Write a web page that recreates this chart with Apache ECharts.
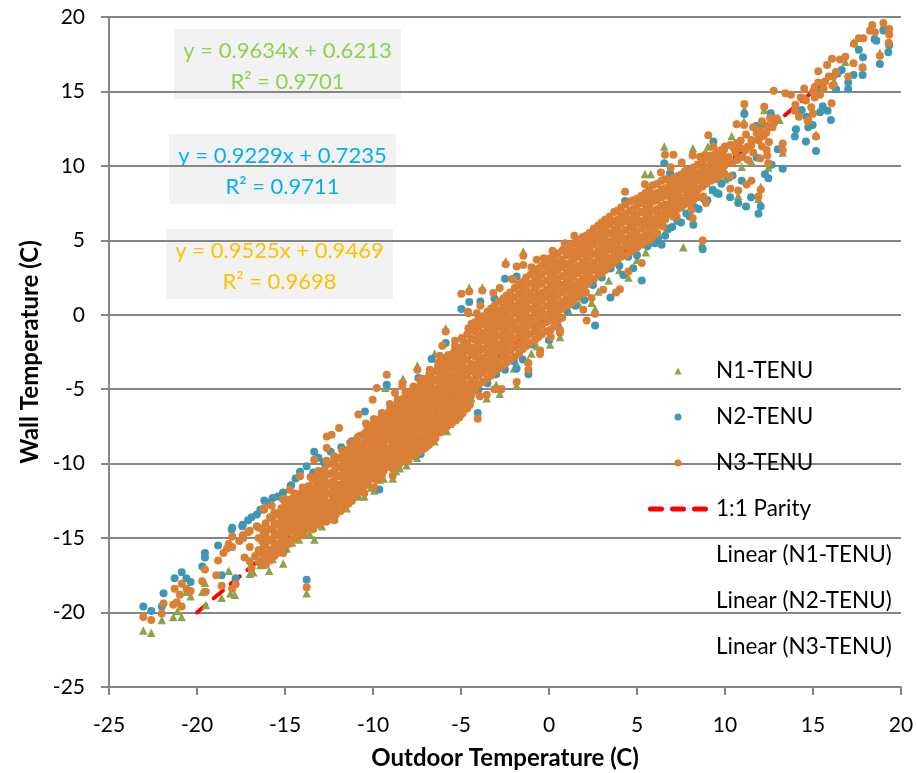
<!DOCTYPE html>
<html>
<head>
<meta charset="utf-8">
<title>Wall vs Outdoor Temperature</title>
<script src="https://cdn.jsdelivr.net/npm/echarts@6/dist/echarts.min.js"></script>
<style>
  html, body { margin: 0; padding: 0; background: #fff; }
  #chart { width: 917px; height: 773px; }
</style>
</head>
<body>
<div id="chart"></div>
<script>
// values, [outdoor, wall]
const parity = [[-20, -20], [16, 16]];
const linearN1 = [[-23, -21.54], [19.3, 19.21]];
const linearN2 = [[-23, -20.5], [19.3, 18.54]];
const linearN3 = [[-23, -20.96], [19.3, 19.33]];

const n1Tenu = [
  [-23.05,-21.2],[-22.6,-21.35],[-22,-20.5],[-21.35,-20.3],[-20.87,-20.3],[-21.1,-19.9],[-20.36,-18.9],[-20.6,-18.6],
  [-19.5,-19.5],[-19.7,-18.6],[-19.55,-18],[-18.6,-19],[-18.1,-18.7],[-17.85,-18.8],[-13.77,-18.7],[-18.2,-17.2],
  [-17,-17.4],[-16.8,-17.3],[-15.9,-17.2],[-15.1,-16.7],[-14.6,-15.3],[-13.33,-15.1],[-13.92,-14.7],[-11.8,-12.46],
  [-11.18,-11.6],[-16.4,-16.8],[-15.7,-16.4],[-14.9,-15.7],[-14.2,-15.1],[-13.67,-14.2],[-13.11,-13.98],[-12.44,-12.64],
  [-11.78,-12.53],[-11.18,-11.64],[-10.49,-12.2],[-9.93,-11.8],[-8.88,-11],[-8.47,-10.3],[-7.9,-8.95],[-6.86,-8.66],
  [-6.2,-7.83],[-5.53,-7.16],[-9.6,-11.07],[-10.27,-11.4],[-11.5,-11],[-9.3,-4.9],[-12.8,-13.6],[-7.4,-9.3],
  [-5.6,-7.3],[-4.96,-6.26],[-4.4,-5.6],[-3.54,-5.6],[-2.8,-5.3],[-1.84,-4.75],[-1.93,-3.07],[-1.2,-3.1],
  [-0.7,-2.1],[0.06,-2],[0.62,-1.5],[1.1,0.3],[1.7,0.7],[2.42,0.8],[2.62,0.4],[2.8,1.56],[3.4,2.3],[4,3],
  [4.51,2.5],[5,3.7],[5.5,4.2],[6.1,4.9],[6.7,5.8],[7.3,6.5],[8,7.1],[8.7,4.8],[7.63,4.54],
  [-14.4,-15],[-13.6,-14.7],[-12.9,-14.2],[-12.2,-13.7],[-11.5,-13],[-10.8,-12.2],[-10.1,-11.6],[-9.4,-11],[-8.7,-10.5],
  [-8.1,-10.1],[-7.5,-9.6],[-6.5,-8.5],[-5.8,-7.8],[-3,-4.7],[-2,-3.6],[-1,-2.6],[0,-1.6],
  [-1.46,4.25],[-2.46,3.6],[-4.53,1.84],[-3.79,1.84],[-5.87,-0.9],[-6.5,-2.6],[-7.48,-3.4],[-8.3,-4.3],
  [5.45,9.46],[5.78,9.46],[6.55,11.3],[8.18,11.19],[9.03,11.3],[10.38,12],[11.1,13.8],[11.08,13],[12.23,13.75],
  [15.17,12.1],[18.8,17.6],[17.82,16.7],[16.84,17],[19,19.45],[12.03,8.6],[11.9,7.8],[10.75,8],[13.28,10.9],
  [12.46,9.9],[10.95,9.95],[9.3,8.4],[10,9.1],[11.5,10.3],[13.1,13.1],[14.2,13.7],[15.5,15.2],[16.2,15.7],[17.3,18.3]
];

const n2Tenu = [
  [-23.05,-19.6],[-22.6,-19.9],[-22,-19.6],[-21.27,-17.7],[-20.87,-17.3],[-20.6,-17.7],[-20.36,-17.95],[-21.9,-18.7],
  [-19.55,-16],[-19.55,-16.3],[-19.7,-16.9],[-18.8,-15.5],[-18.6,-17.5],[-17.8,-17.7],[-18,-14.3],[-13.77,-17.8],
  [-17.4,-14.1],[-17.43,-14.2],[-18.03,-14.43],[-16.6,-13.42],[-16.18,-12.48],[-15.7,-12.3],[-15.13,-12],[-14.68,-11.5],
  [-15.06,-15.8],[-15.1,-11.93],[-14.65,-11.45],[-14.15,-10.55],[-13.77,-10.18],[-13.34,-9.2],[-12.63,-13.7],
  [-17.1,-13.8],[-16.9,-13.6],[-16.4,-13.1],[-15.9,-12.6],[-15.4,-12.2],[-14.4,-11],[-13.1,-9.6],[-12.4,-9.2],[-11.8,-8.9],[-11.2,-8.5],
  [-13.4,-10.6],[-12.8,-9.9],[-12.2,-9.6],[-11.5,-9.1],[-10.9,-8.3],[-10.46,-6.49],[-10.3,-7.6],[-9.6,-7],[-9.22,-4.7],
  [-9,-6.3],[-8.4,-5.9],[-7.74,-5.26],[-7.42,-4.25],[-7,-4.5],[-6.67,-2.97],[-6.3,-3.5],[-5.87,-1.9],[-5.7,-3.1],[-5,-2.2],
  [-4.98,0.38],[-4.53,0.85],[-2.5,2.42],[-1.84,2.57],[-0.3,3.36],[1.29,4.03],[2.5,5.59],[-3.9,0.9],[-3.1,1.1],
  [-11.59,-11.57],[-9.64,-11.74],[-7.29,-9.35],[-8,-9.8],[-7,-8.9],[-6,-7.7],[-5,-6.7],[-4.05,-6.6],[-4,-5],[-3,-4],
  [-3.5,-4.6],[-2.5,-3.7],[-1.5,-3],[0.5,-0.8],[1.5,0.6],[2.5,2],[3.5,3.1],[4.5,3.9],
  [6,4.8],[6.6,5.3],[7,5.9],[7.5,6.2],[8,6.6],[8.5,7.1],[9,7.7],[9.5,8.2],
  [-2,-3.1],[-1.84,-3.6],[-1.17,-4],[-1,-2],[0,-1.7],[1,0.3],[2,1],[2.62,-0.72],[3,2.5],[3.49,1.16],[4,3.3],[4.22,2.68],
  [4.79,3.13],[5.27,2.3],[5,4],[5.6,4.6],[6.2,5.1],[6.4,4.7],[6.8,5.8],[7.3,6.3],[7.8,6.8],[8.2,6.04],[8.3,7.2],[8.73,4.4],
  [8.8,7.8],[9.3,8.4],[9.64,8.12],[9.8,8.8],[10.2,9.2],[10.43,9.35],[10.95,9],[10.29,7.9],[10.75,7.5],[11.2,7.27],
  [11.48,7.9],[11.9,6.78],[12.03,7.27],[12.27,9.44],[12.46,9.17],[12.65,10.07],[13.28,9.8],[13,11.12],[11.8,10.56],
  [4.32,7.65],[5.45,8.1],[6.55,10.18],[6.88,9.5],[9.34,11.63],[11.1,13.49],[12.6,13.54],[12.08,12.8],[11.76,12.68],
  [14.36,13.76],[14.64,13.3],[14.03,12.46],[13.97,11.97],[14.6,11.63],[15.17,11],[14.73,12.6],[14.98,12.75],[15.4,13.6],
  [15.55,14],[15.83,13.7],[16.02,13.09],[16.31,15.15],[16.63,16.44],[17,15.15],[17,15.6],[17.3,16.1],[17.82,16.1],
  [17.84,17.3],[17.6,17.8],[18.8,16.85],[19,19.1],[18.5,18.5],[18.6,18.4],[19.33,18.1],[19.28,17.63],[16.4,16.2],[15.3,15]
];

// scattered N3 points: tails and outliers
const n3Tails = [
  [-23.05,-20.3],[-22.6,-20.5],[-22,-20.07],[-21.9,-19.4],[-21.35,-19.47],[-20.87,-19.6],[-21.15,-19.3],[-20.97,-18.8],
  [-21.27,-18.4],[-20.87,-18.07],[-20.6,-18.4],[-20.36,-18.55],[-19.5,-18.6],[-19.7,-17.9],[-19.55,-17.1],[-18.9,-17.5],
  [-18.8,-16.5],[-18.6,-18.2],[-18,-18.4],[-17.8,-18.1],[-18.5,-16],[-18.3,-15.7],[-18,-14.9],[-18,-15.6],[-13.77,-18.3],
  [-18.2,-15.4],[-17.37,-15],[-17,-14.5],[-16.6,-14.2],[-16.2,-13.1],[-17,-16.56],[-15.85,-16.3],[-16.32,-16],[-15.1,-16],
  [-17.6,-15.2],[-17.4,-14.8],[-17.3,-16.3],[-17,-15.6],[-16.9,-17],[-16.7,-16.2],[-17.1,-14.6],[-16.18,-12.98],
  [-15.76,-12.82],[-15.13,-12.37],[-14.72,-11.75],[-14.15,-10.85],[-13.34,-9.73],[-12.63,-8.17],[-12.63,-8.95],[-12.35,-8.05],
  [-11.93,-7.6],[-10.83,-6.7],[-10.02,-5.7],[-9.79,-4.92],[-9.22,-4.03],[-8.33,-4.58],[-7.48,-3.69],[-6.2,-2.75],[-6.06,-2.08],
  [-5.87,-1.12],[-5.34,-1.74],[-4.98,1.41],[-4.53,1.56],[-3.79,1.63],[-3.16,1.46],[-2.46,3.4],[-1.46,3.96],[1.44,5.3],
  [-4.6,0.2],[-3.9,0.6],[-2.8,1.8],[-2.1,2.4],[-1,3.2],[0.2,4.3],[0.9,4.8],
  [-1.84,3.24],[-1.46,3.35],[-0.7,3.69],[-0.3,3.8],[0.06,3.8],[0.34,4.15],[0.8,4.36],[1.48,4.8],[-2.03,2.35],[-1.6,2.1],
  [-3.16,0.33],[-4.58,0.11],[-4.1,0.11],[-4.58,-0.9],[-4.96,-1.56],[-5.34,-2.1],[-5.72,-2.7],[-6.77,-3.7],[-7.33,-4.36],
  [-8.33,-4.81],[-8.75,-5.26],[-7.7,-4.81],[-2.78,-5.03],[-0.5,-2.4],[0.62,-1.2],[1.95,0.33],[3.08,1.68],[-3.92,-5.48],
  [-4.49,-6.04],[-5.63,-7.05],[-3.1,-5],[-3.54,-5.37],[-4.9,-6.2],
  [-12.63,-13.36],[-13.24,-12.3],[-11.73,-12.08],[-10.49,-11.97],[-9.93,-11.59],[-8.88,-10.81],[-9.5,-10.5],[-7.29,-8.9],[-9.22,-9.84],
  [-4.05,-6.98],[-2.69,-4.99],[-1.84,-4.52],[-1.17,-3.24],[-1.17,-3.69],[-0.51,-2.64],[0.62,-1],[2.14,-0.38],[2.62,0.07],
  [2.42,1.12],[3.81,1.5],[4.03,1.72],[4.51,2.9],[5.27,3.47],
  [8.1,7.05],[8.77,7.94],[7.25,6.6],[6.49,5.93],[5.74,5],[7.82,9.73],[8.87,10.74],[9.81,11.07],[9.34,10.4],
  [4.32,8.27],[5.45,8.77],[6.36,9.55],[6.92,9.91],[6.59,10.74],[7.07,10.74],[7.54,10.22],[8.16,10.69],[8.58,10.62],[9.34,11.3],[10,11.3],[9.05,12.05],
  [8.92,7.5],[8.16,6.49],[8.73,4.99],[10.29,9.28],[10.3,8.46],[10.75,8.34],[11.23,8.75],[11.5,9],[12.03,8.39],[11.9,7.94],
  [10.3,11.4],[10.6,10.9],[11,10.6],[11.3,11.3],[11.6,10.9],[11.9,11.7],[12.1,11.3],[11.8,12.2],[12.2,12],[12.4,12.7],[12.7,12.6],[12.5,11.6],
  [10.2,10.6],[10.7,10.4],[11.15,11.05],[11.5,11.4],[12,11.95],[12.35,12.25],[12.8,12.9],[10.5,11.2],[10.9,11.7],[11.2,12.1],[11.6,12.6],[12.1,13],
  [10,10.2],[10.4,10.2],[10.9,11.2],[11.3,10.4],[12,10.5],[12.4,10.7],[10.66,12.8],[11.08,12.75],[10.66,11.52],[11.99,12.4],[12.56,13.2],[11.5,11.74],
  [12.37,11.07],[12.46,10.18],[13.28,11.5],[13.28,11.05],[11.1,14.16],[12.23,13.98],[12.77,15.05],[12.93,13.2],[13.43,14.88],[13.75,14.77],[13.97,13.7],
  [14,14.1],[14.3,14.6],[14.45,14.54],[14.5,15.2],[14.6,14.4],[15,15],[15.1,15.3],[15.3,16.36],[15.3,15.6],[15.4,14.77],[15.6,15.2],[15.68,15.66],[15.8,16.78],
  [15.9,16],[16.06,14.2],[16.08,17.2],[16.1,15.4],[16.15,16],[16.3,16.3],[16.53,17.15],[16.84,17.33],[15.1,14.6],[14.2,13.3],[14.7,13],[14.73,13.09],[14.9,13.94],[15,13.5],
  [15.17,11.97],[17,16],[17.3,16.9],[17.33,18.2],[17.6,18.57],[17.82,16.6],[17.86,18.57],[18.24,19.08],[18.37,19.46],[18.52,18.97],[18.8,17.4],[19,19.6],[19.33,19.2],[19.33,18.8],[19.3,18.27]
];

// dense N3 band, one row per outdoor reading: [x, y, y, ...]
const n3Band = [
  [-16.5,-14.3,-15,-15.8,-16.6],[-16.3,-14.4,-15.2,-15.9,-16.5],[-16.2,-14.7,-15.5,-16.3],[-16.1,-14,-14.7,-15.4,-16.1,-16.8],[-15.85,-13.6,-14.4,-15.1,-15.8,-16.5],
  [-15.7,-13.7,-14.4,-15.2,-15.9],[-15.6,-13.3,-14,-14.8,-15.5,-16.2],[-15.4,-13.4,-14.1,-14.7,-15.4,-16],[-15.3,-13.3,-14,-14.7,-15.5],[-15.2,-13,-13.7,-14.4,-15.1,-15.8],[-15,-12.8,-13.4,-14.1,-14.8,-15.5],
  [-14.9,-12.4,-13,-13.7,-14.4,-15.2],[-14.8,-12.6,-13.3,-14,-14.6,-15.4],[-14.55,-12.3,-13,-13.7,-14.3,-15.1],[-14.45,-12,-12.6,-13.3,-14,-14.6],[-14.3,-12.2,-12.9,-13.6,-14.2,-14.9],[-14.1,-12,-12.6,-13.2,-13.9,-14.6],
  [-14,-11.6,-12.3,-12.9,-13.5,-14.2,-14.8],[-13.9,-11.9,-12.5,-13.1,-13.8,-14.5],[-13.65,-11.5,-12.2,-12.8,-13.4,-14.1],[-13.55,-10.9,-11.7,-12.4,-13,-13.6,-14.3],[-13.4,-11.1,-11.9,-12.5,-13.1,-13.8,-14.4],[-13.2,-10.8,-11.4,-12.1,-12.8,-13.5,-14.1],
  [-13.1,-10.5,-11.2,-11.8,-12.4,-13,-13.7],[-13,-10.9,-11.5,-12,-12.7,-13.3,-14],[-12.75,-10.4,-11,-11.7,-12.3,-13,-13.7],[-12.65,-9.8,-10.7,-11.3,-12,-12.6,-13.2,-13.9],[-12.5,-10,-10.7,-11.4,-12,-12.7,-13.5],[-12.3,-10,-10.6,-11.2,-11.8,-12.5,-13.1],
  [-12.2,-9.5,-10,-10.6,-11.3,-11.9,-12.5,-13.1,-13.8],[-12.1,-9.7,-10.3,-10.9,-11.6,-12.2,-12.8,-13.4],[-11.85,-9.6,-10.2,-10.8,-11.4,-12,-12.6,-13.2],[-11.75,-9.1,-9.7,-10.3,-10.9,-11.5,-12.1,-12.7],[-11.6,-9.4,-10,-10.6,-11.2,-11.8,-12.4,-12.9],[-11.4,-9.1,-9.8,-10.4,-11,-11.6,-12.2,-12.7],
  [-11.3,-8.6,-9.3,-9.9,-10.5,-11.1,-11.7,-12.3],[-11.2,-8.9,-9.5,-10.1,-10.7,-11.3,-11.9,-12.5],[-10.95,-8.5,-9.2,-9.8,-10.4,-11,-11.6,-12.1],[-10.85,-8.2,-8.9,-9.5,-10.1,-10.7,-11.3,-11.9],[-10.7,-8.1,-8.8,-9.4,-10,-10.6,-11.2,-11.8],[-10.5,-8,-8.6,-9.2,-9.8,-10.4,-11,-11.5],
  [-10.4,-7.3,-7.9,-8.6,-9.2,-9.8,-10.4,-11.1],[-10.3,-7.7,-8.3,-8.9,-9.5,-10.1,-10.7,-11.3],[-10.05,-7.4,-8,-8.6,-9.2,-9.9,-10.5,-11],[-9.95,-7,-7.7,-8.3,-8.9,-9.5,-10.2,-10.8],[-9.8,-7.1,-7.7,-8.3,-9,-9.6,-10.2,-10.8,-11.1],[-9.6,-7,-7.4,-8,-8.6,-9.3,-9.9,-10.5,-11],
  [-9.5,-6.6,-7.2,-7.8,-8.4,-9,-9.6,-10.2,-10.8],[-9.4,-7,-7.5,-8.1,-8.7,-9.3,-9.9,-10.5],[-9.15,-6.6,-7.2,-7.8,-8.4,-9,-9.6,-10.2],[-9.05,-6,-6.5,-7.1,-7.7,-8.3,-9,-9.6,-10],[-8.9,-6.3,-6.9,-7.5,-8.1,-8.7,-9.3,-9.9,-10.3],[-8.7,-6.1,-6.6,-7.3,-7.9,-8.4,-9.1,-9.7,-10.1],
  [-8.6,-5.7,-6.3,-6.9,-7.5,-8.1,-8.7,-9.3,-9.8],[-8.5,-6,-6.6,-7.2,-7.8,-8.3,-8.9,-9.5,-10],[-8.25,-5.6,-6.2,-6.8,-7.4,-8,-8.6,-9.2,-9.7],[-8.15,-5.2,-5.8,-6.4,-7.2,-7.7,-8.3,-8.9,-9.5],[-8,-5.3,-5.9,-6.5,-7,-7.6,-8.2,-8.8,-9.4,-9.8],[-7.8,-5.2,-5.7,-6.3,-6.9,-7.4,-8,-8.6,-9.1,-9.5],
  [-7.7,-4.9,-5.4,-6,-6.5,-7.1,-7.7,-8.2,-8.8],[-7.6,-5.1,-5.6,-6.1,-6.7,-7.2,-7.8,-8.4,-8.9,-9.3],[-7.35,-4.8,-5.3,-5.9,-6.4,-7,-7.6,-8.2,-8.7,-9.2],[-7.2,-4.3,-4.8,-5.4,-6,-6.6,-7.2,-7.7,-8.3,-8.8],[-7.1,-4.5,-5,-5.6,-6.2,-6.8,-7.4,-7.9,-8.5,-9],[-6.9,-4.3,-4.9,-5.3,-5.9,-6.5,-7.1,-7.7,-8.2,-8.8],
  [-6.8,-4,-4.5,-5.1,-5.7,-6.2,-6.8,-7.4,-8],[-6.7,-4.2,-4.8,-5.4,-5.9,-6.4,-7,-7.6,-8.1,-8.6],[-6.45,-3.8,-4.4,-5,-5.6,-6.1,-6.7,-7.2,-7.8,-8.3],[-6.3,-3.2,-3.7,-4.3,-4.9,-5.4,-6,-6.6,-7.1,-7.6],[-6.2,-3.4,-4,-4.6,-5.1,-5.7,-6.3,-6.9,-7.4,-7.9],[-6,-3.3,-3.9,-4.4,-5,-5.6,-6.1,-6.7,-7.2,-7.7],
  [-5.9,-2.9,-3.5,-4,-4.5,-5.1,-5.7,-6.3,-6.8],[-5.8,-3.2,-3.7,-4.2,-4.8,-5.4,-6,-6.5,-7,-7.5],[-5.55,-3,-3.5,-4.1,-4.6,-5.2,-5.8,-6.3,-6.8,-7.3],[-5.4,-2.5,-3.1,-3.6,-4.2,-4.8,-5.3,-5.9,-6.4],[-5.3,-2.8,-3.3,-3.9,-4.4,-5,-5.5,-6.1,-6.6,-7.1],[-5.1,-2.5,-3,-3.6,-4.1,-4.7,-5.3,-5.8,-6.3,-6.9],
  [-4.9,-1.7,-2.2,-2.7,-3.3,-3.9,-4.4,-5,-5.6,-6.1,-6.6],[-4.65,-1.3,-1.9,-2.4,-3,-3.6,-4.1,-4.7,-5.3,-5.8,-6.3],[-4.4,-0.6,-1,-1.6,-2.2,-2.7,-3.3,-3.8,-4.4,-4.9,-5.4],[-4.2,-0.5,-1.1,-1.7,-2.3,-2.8,-3.4,-3.9,-4.5,-5.1],
  [-4,-0.3,-0.8,-1.4,-2,-2.5,-3.1,-3.6,-4.1,-4.7],[-3.75,-0.1,-0.6,-1.2,-1.7,-2.3,-2.9,-3.4,-3.9,-4.5],[-3.5,0.2,-0.4,-0.9,-1.5,-2,-2.6,-3.2,-3.7,-4.3],[-3.3,0.4,-0.2,-0.8,-1.3,-1.9,-2.4,-3,-3.5,-4.1],
  [-3.1,0.6,0,-0.6,-1.1,-1.7,-2.2,-2.8,-3.3,-3.8],[-2.85,0.9,0.3,-0.3,-0.8,-1.4,-2,-2.5,-3.1,-3.6],[-2.6,1.1,0.5,0,-0.6,-1.1,-1.7,-2.3,-2.8,-3.4],[-2.4,1.3,0.7,0.2,-0.4,-0.9,-1.5,-2.1,-2.6,-3.2],
  [-2.2,1.5,1,0.4,-0.2,-0.7,-1.3,-1.8,-2.4,-3],[-1.95,1.8,1.2,0.6,0.1,-0.5,-1,-1.6,-2.2,-2.8],[-1.7,2,1.4,0.8,0.3,-0.3,-0.9,-1.4,-2,-2.6],[-1.5,2.2,1.6,1,0.5,-0.1,-0.6,-1.2,-1.8,-2.3],
  [-1.3,2.5,1.9,1.3,0.7,0.2,-0.4,-1,-1.5,-2.1],[-1.05,2.7,2.1,1.5,1,0.4,-0.2,-0.7,-1.3,-1.9],[-0.8,2.9,2.3,1.8,1.2,0.6,0.1,-0.5,-1.1,-1.7],[-0.6,3.1,2.5,2,1.4,0.8,0.2,-0.3,-0.9,-1.5],
  [-0.4,3.3,2.7,2.1,1.5,1,0.4,-0.1,-0.7,-1.3],[-0.15,3.5,2.9,2.3,1.7,1.2,0.6,0,-0.5,-1.1],[0.1,3.7,3.1,2.6,2,1.4,0.8,0.3,-0.3,-1,-1.5],[0.3,3.9,3.3,2.8,2.2,1.6,1.1,0.5,-0.1,-0.7],
  [0.5,4.1,3.5,3,2.4,1.9,1.3,0.7,0.2,-0.4],[0.75,4.3,3.7,3.2,2.6,2,1.5,0.9,0.4,-0.2],[1,4.5,4,3.4,2.8,2.2,1.7,1.1,0.6],[1.2,4.6,4.1,3.5,3,2.4,1.8,1.3,0.7],
  [1.4,4.8,4.2,3.7,3.1,2.6,2,1.5,0.9],[1.65,5,4.4,3.9,3.3,2.8,2.2,1.7,1.2],[1.9,5.2,4.6,4.1,3.5,3,2.4,1.9,1.4],[2.1,5.3,4.8,4.2,3.7,3.1,2.6,2,1.5],
  [2.3,5.5,5,4.4,3.9,3.3,2.8,2.2],[2.55,5.8,5.2,4.7,4.1,3.5,3,2.4],[2.8,6,5.4,4.9,4.3,3.8,3.2,2.7],[3,6.2,5.6,5.1,4.5,3.9,3.4,2.8],
  [3.2,6.4,5.8,5.3,4.7,4.1,3.6,3],[3.45,6.6,6.1,5.5,4.9,4.4,3.8,3.3],[3.7,6.9,6.3,5.7,5.2,4.6,4.1,3.5],[3.9,7,6.4,5.9,5.3,4.8,4.2,3.7],
  [4.1,7.2,6.6,6.1,5.5,5,4.4,3.9],[4.35,7.4,6.8,6.3,5.7,5.1,4.6,4],[4.6,7.6,7,6.4,5.9,5.3,4.7,4.2],[4.8,7.7,7.1,6.6,6,5.5,4.9,4.4],
  [5,7.8,7.3,6.7,6.2,5.6,5.1,4.5],[5.25,8,7.5,6.9,6.3,5.8,5.2,4.7],[5.5,8.2,7.7,7.1,6.5,6,5.4,4.9],[5.7,8.4,7.9,7.3,6.8,6.2,5.6,5.1],
  [5.9,8.7,8.1,7.6,7,6.4,5.9,5.3],[6.15,8.8,8.2,7.7,7.1,6.6,6,5.5],[6.4,9,8.4,7.9,7.3,6.7,6.2],[6.6,9.1,8.5,8,7.4,6.9,6.4],
  [6.8,9.1,8.6,8,7.4,6.8],[6.95,8.9,8.3,7.7,7.2],[7.05,9.2,8.7,8.1,7.5,7,6.6],[7.3,9.3,8.8,8.2,7.6,7.1],[7.4,9.1,8.5,7.9,7.3],[7.5,9.4,8.9,8.4,7.8,7.2],
  [7.7,9.6,9.1,8.5,7.9,7.4],[7.85,9.4,8.8,8.3,7.7],[7.95,9.7,9.2,8.6,8.1,7.5],[8.2,9.9,9.3,8.8,8.2,7.7],[8.3,9.6,9.1,8.5,8],[8.45,10.1,9.5,9,8.4,7.9],
  [8.7,10.3,9.7,9.1,8.6],[8.8,10,9.4,8.9],[8.95,10.5,9.9,9.3,8.8],[9.2,10.7,10.1,9.5,9],[9.3,10.4,9.8,9.3],[9.45,10.8,10.2,9.7,9.1],[9.7,11,10.4,9.8,9.3],[9.8,10.7,10.1,9.6],[9.95,11.1,10.6,10,9.5]
];
const n3Tenu = n3Tails.concat(n3Band.flatMap(([x, ...ys]) => ys.map(y => [x, y])));

const fontFamily = 'Lato, "Noto Sans", sans-serif';
const gridGray = '#868686';
const equations = [
  { text: 'y = 0.9634x + 0.6213\nR² = 0.9701', color: '#92d050', left: 174, top: 29 },
  { text: 'y = 0.9229x + 0.7235\nR² = 0.9711', color: '#00b0f0', left: 169, top: 134 },
  { text: 'y = 0.9525x + 0.9469\nR² = 0.9698', color: '#ffc000', left: 166, top: 229 }
];

const chart = echarts.init(document.getElementById('chart'));

const valueAxis = (name, nameGap, labelMargin) => ({
  type: 'value',
  min: -25,
  max: 20,
  interval: 5,
  name,
  nameLocation: 'middle',
  nameGap,
  nameTextStyle: { fontFamily, fontSize: 24, fontWeight: 'bold', color: '#000' },
  axisLine: { show: true, onZero: false, lineStyle: { color: gridGray, width: 2 } },
  axisTick: { show: true, length: 8, lineStyle: { color: gridGray, width: 2 } },
  axisLabel: { fontFamily, fontSize: 21, color: '#000', margin: labelMargin },
  splitLine: { show: false }
});

const scatter = (name, data, symbol, color, size) => ({
  name, type: 'scatter', data, symbol, symbolSize: size, z: 3,
  itemStyle: { color, opacity: 1 }
});

const hidden = (name, data) => ({
  name, type: 'line', data, symbol: 'none', z: 1,
  lineStyle: { opacity: 0 }, itemStyle: { opacity: 0 }
});

chart.setOption({
  animation: false,
  backgroundColor: '#fff',
  // outerBoundsMode off, otherwise v6 squeezes the grid to fit the axis names
  grid: { left: 109, right: 16, top: 17, bottom: 86, outerBoundsMode: 'none' },
  xAxis: valueAxis('Outdoor Temperature (C)', 59, 28),
  yAxis: Object.assign(valueAxis('Wall Temperature (C)', 66, 24), {
    splitLine: { show: true, lineStyle: { color: gridGray, width: 2 } }
  }),
  legend: {
    orient: 'vertical',
    left: 643,
    top: 354,
    itemWidth: 60,
    itemHeight: 7,
    itemGap: 22,
    textStyle: { fontFamily, fontSize: 22.5, color: '#000', lineHeight: 24, padding: [0, 0, 0, 3] },
    data: [
      { name: 'N1-TENU', icon: 'path://M5 0L10 10L0 10Z' },
      { name: 'N2-TENU', icon: 'circle' },
      { name: 'N3-TENU', icon: 'circle' },
      { name: '1:1 Parity', icon: 'path://M2.5 0H13.5A2.5 2.5 0 0 1 13.5 5H2.5A2.5 2.5 0 0 1 2.5 0ZM24.5 0H35.5A2.5 2.5 0 0 1 35.5 5H24.5A2.5 2.5 0 0 1 24.5 0ZM46.5 0H57.5A2.5 2.5 0 0 1 57.5 5H46.5A2.5 2.5 0 0 1 46.5 0Z' },
      { name: 'Linear (N1-TENU)', icon: 'none' },
      { name: 'Linear (N2-TENU)', icon: 'none' },
      { name: 'Linear (N3-TENU)', icon: 'none' }
    ]
  },
  series: [
    scatter('N1-TENU', n1Tenu, 'triangle', '#8ba44b', 8.5),
    scatter('N2-TENU', n2Tenu, 'circle', '#3e97b4', 8),
    scatter('N3-TENU', n3Tenu, 'circle', '#d97f36', 8),
    {
      name: '1:1 Parity', type: 'line', data: parity, symbol: 'none', z: 2,
      itemStyle: { color: '#ff0000' },
      lineStyle: { color: '#ff0000', width: 4, type: [12, 10], cap: 'round' }
    },
    hidden('Linear (N1-TENU)', linearN1),
    hidden('Linear (N2-TENU)', linearN2),
    hidden('Linear (N3-TENU)', linearN3)
  ],
  graphic: equations.map(eq => ({
    type: 'group',
    left: eq.left,
    top: eq.top,
    z: 10,
    children: [
      { type: 'rect', shape: { x: 0, y: 0, width: 227, height: 70 }, style: { fill: '#f2f2f2' } },
      { type: 'text', x: 113.5, y: 37,
        style: { text: eq.text, fill: eq.color, font: '22px ' + fontFamily, lineHeight: 31, align: 'center', verticalAlign: 'middle' } }
    ]
  }))
});
</script>
</body>
</html>
